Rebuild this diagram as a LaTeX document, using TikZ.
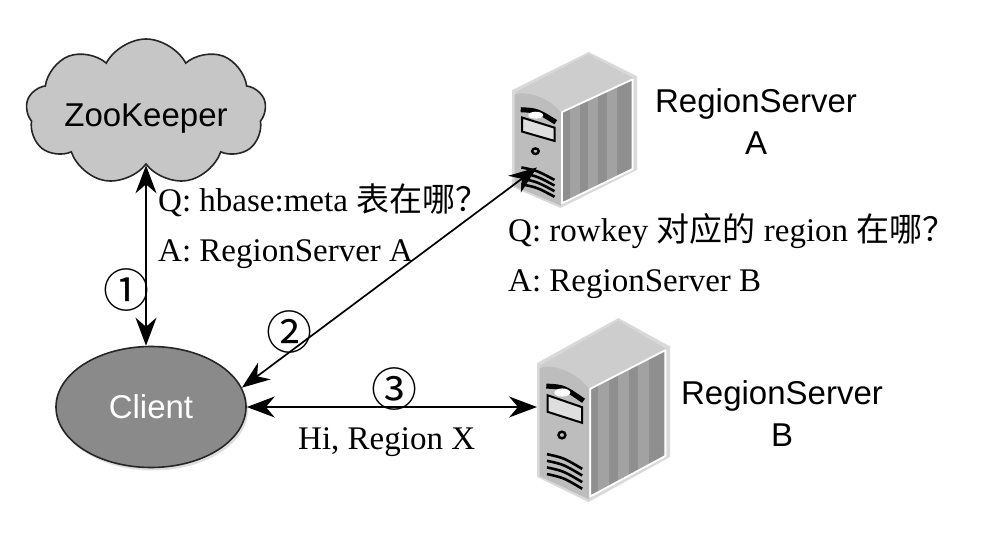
\documentclass[tikz,border=0pt]{standalone}
\usepackage{fontspec}
\setmainfont{Liberation Serif}
\setsansfont{Liberation Sans}
\newfontfamily\cjk{Noto Sans CJK SC}
\usetikzlibrary{arrows.meta,shapes.symbols,shapes.geometric,shadows}

\definecolor{cloudgray}{HTML}{C6C6C6}
\definecolor{clientgray}{HTML}{8A8A8A}
\definecolor{srvrim}{HTML}{D9D9D9}
\definecolor{srvtop}{HTML}{CDCDCD}
\definecolor{srvfront}{HTML}{BDBDBD}
\definecolor{srvside}{HTML}{8F8F8F}
\definecolor{srvstripe}{HTML}{A2A2A2}
\definecolor{srvlight}{HTML}{DEDEDE}

\tikzset{
    server/.pic={
        % body
        \fill[srvrim] (0,0.245) -- (0.6125,0) -- (1,0.155) -- (1,0.755)
                      -- (0.3875,1) -- (0,0.864) -- cycle;
        \fill[srvtop] (0.02,0.26) -- (0.6125,0.015) -- (0.975,0.17)
                      -- (0.39,0.385) -- cycle;
        \fill[srvfront] (0.02,0.27) .. controls (0.15,0.25) and (0.3,0.3) .. (0.39,0.385)
                      -- (0.39,0.985) -- (0.02,0.86) -- cycle;
        % side panel
        \begin{scope}
            \clip (0.4,0.385) -- (0.965,0.175) -- (0.965,0.75) -- (0.4,0.97) -- cycle;
            \fill[srvside] (0.4,0) rectangle (1,1);
            \foreach \u in {0.46,0.61,0.76}
                \fill[srvstripe] (\u,0) rectangle ({\u+0.08},1);
        \end{scope}
        \draw[white, line width=1.8pt, line join=round]
            (0.4,0.385) -- (0.965,0.175) -- (0.965,0.75) -- (0.4,0.97) -- cycle;
        % front details
        \draw[black, line width=5pt] (0.07,0.37) .. controls (0.2,0.375) .. (0.35,0.45);
        \filldraw[fill=srvlight, draw=black, line width=2pt]
            (0.08,0.42) -- (0.34,0.485) -- (0.34,0.57) -- (0.08,0.51) -- cycle;
        \fill[white] (0.19,0.405) ellipse (0.06 and 0.022);
        \draw[black, line width=2.4pt] (0.1875,0.636) ellipse (0.026 and 0.018);
        \foreach \k in {0,1,2,3}
            \draw[black, line width=2.6pt] (0.075,{0.74+\k*0.036})
                .. controls (0.2,{0.76+\k*0.036}) .. (0.34,{0.82+\k*0.036});
        \coordinate (-front) at (0.2,0.74);
        \coordinate (-side) at (0,0.49);
    }
}

\begin{document}
\begin{tikzpicture}[
        x=1pt, y=-1pt,
        every node/.style={color=black, inner sep=0pt},
        zkcloud/.style={cloud, cloud puffs=9, cloud puff arc=125, aspect=1.6,
            draw=black!85, line width=1.6pt, fill=cloudgray,
            minimum width=240pt, minimum height=146pt},
        clientnode/.style={ellipse, draw=black!85, line width=1.6pt, fill=clientgray,
            minimum width=190pt, minimum height=121pt,
            drop shadow={opacity=0.25, shadow xshift=2pt, shadow yshift=-3pt}},
        sanstext/.style={font=\sffamily\fontsize{33}{42}\selectfont, align=center},
        note/.style={font=\fontsize{33}{42}\selectfont, anchor=base west},
        num/.style={font=\cjk\fontsize{46}{50}\selectfont},
        biarrow/.style={line width=1.7pt,
            {Stealth[length=28pt,width=21pt,inset=9pt]}-{Stealth[length=28pt,width=21pt,inset=9pt]}},
    ]
    \useasboundingbox (0,0) rectangle (1002,534);

    % zookeeper and client
    \node[zkcloud, label={[sanstext, yshift=-7pt]center:ZooKeeper}] (zk) at (146,112) {};
    \node[clientnode, sanstext, text=white] (cl) at (151,407) {Client};

    % servers
    \pic[xscale=125, yscale=156] (srvA) at (512,52) {server};
    \pic[xscale=133, yscale=184] (srvB) at (537,318) {server};
    \node[sanstext] (labA) at (756,122) {RegionServer\\A};
    \node[sanstext] (labB) at (782,414) {RegionServer\\B};

    % step 1
    \draw[biarrow] (zk.south) -- (zk.south |- cl.north);
    \node[num] (n1) at (126,290) {①};
    \node[note] (q1) at (158,212) {Q: hbase:meta {\cjk 表在哪？}};
    \node[note] (a1) at (158,262) {A: RegionServer A};

    % step 2
    \draw[biarrow] (cl.12) -- (srvA-front);
    \node[num] (n2) at (289,332) {②};
    \node[note] (q2) at (508,242) {Q: rowkey {\cjk 对应的} region {\cjk 在哪？}};
    \node[note] (a2) at (508,292) {A: RegionServer B};

    % step 3
    \draw[biarrow] (cl.east) -- (cl.east -| srvB-side);
    \node[num] (n3) at (394,389) {③};
    \node[note] (hi) at (298,450) {Hi, Region X};
\end{tikzpicture}
\end{document}
